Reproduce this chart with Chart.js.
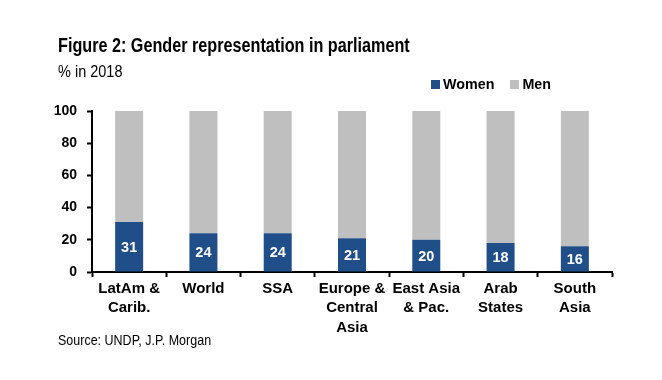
<!DOCTYPE html>
<html>
<head>
<meta charset="utf-8">
<script src="https://cdn.jsdelivr.net/npm/chart.js@4"></script>
<style>
  html, body { margin: 0; padding: 0; background: #fff; }
  #wrap { position: relative; width: 662px; height: 380px; overflow: hidden; font-family: "Liberation Sans", Arial, sans-serif; color: #000; }
  #chart { position: absolute; left: 0; top: 0; }
  .txt { position: absolute; white-space: nowrap; transform-origin: left bottom; }
  #title { left: 58px; top: 38px; font-size: 16.2px; font-weight: bold; transform: scaleY(1.2); }
  #subtitle { left: 58px; top: 64px; font-size: 14.5px; transform: scaleY(1.15); }
  #source { left: 58px; top: 334px; font-size: 12.5px; transform: scaleY(1.1); }
  #legend { position: absolute; left: 431px; top: 76px; font-size: 14.3px; font-weight: bold; display: flex; align-items: center; }
  .lg { display: flex; align-items: center; margin-right: 16px; }
  .sw { width: 9px; height: 9px; margin-right: 3px; }
</style>
</head>
<body>
<div id="wrap">
  <canvas id="chart" width="662" height="380"></canvas>
  <div class="txt" id="title">Figure 2: Gender representation in parliament</div>
  <div class="txt" id="subtitle">% in 2018</div>
  <div id="legend"></div>
  <div class="txt" id="source">Source: UNDP, J.P. Morgan</div>
</div>
<script>
const categories = [["LatAm &", "Carib."], ["World"], ["SSA"], ["Europe &", "Central", "Asia"], ["East Asia", "& Pac."], ["Arab", "States"], ["South", "Asia"]];
const women = [31, 24, 24, 21, 20, 18, 16];
const men = [69, 76, 76, 79, 80, 82, 84];
const yTicks = [0, 20, 40, 60, 80, 100];

const FONT = '"Liberation Sans", Arial, sans-serif';

const valueLabels = {
  id: 'valueLabels',
  afterDatasetsDraw(chart) {
    const ctx = chart.ctx;
    const meta = chart.getDatasetMeta(0);
    const ds = chart.data.datasets[0];
    ctx.save();
    ctx.fillStyle = '#ffffff';
    ctx.font = 'bold 14.5px ' + FONT;
    ctx.textAlign = 'center';
    ctx.textBaseline = 'middle';
    meta.data.forEach((el, i) => {
      const p = el.getProps(['x', 'y', 'base'], true);
      ctx.fillText(String(ds.data[i]), p.x, (p.y + p.base) / 2 + 1);
    });
    ctx.restore();
  }
};

const chart = new Chart(document.getElementById('chart'), {
  type: 'bar',
  data: {
    labels: categories,
    datasets: [
      { label: 'Women', data: women, backgroundColor: '#1F4E88', barPercentage: 0.377, categoryPercentage: 1.0 },
      { label: 'Men', data: men, backgroundColor: '#BFBFBF', barPercentage: 0.377, categoryPercentage: 1.0 }
    ]
  },
  options: {
    responsive: false,
    animation: false,
    devicePixelRatio: 1,
    layout: { padding: { left: 0, right: 50, top: 111, bottom: 0 } },
    plugins: {
      legend: { display: false },
      tooltip: { enabled: false },
      title: { display: false }
    },
    scales: {
      x: {
        stacked: true,
        offset: true,
        grid: { offset: true, drawOnChartArea: false, tickLength: 5, tickColor: '#000', tickWidth: 2 },
        border: { color: '#000', width: 2 },
        ticks: { color: '#000', font: { family: FONT, size: 15, weight: 'bold', lineHeight: 1.3 }, padding: 2, maxRotation: 0, autoSkip: false },
        afterFit(scale) { scale.height = 108; }
      },
      y: {
        stacked: true,
        min: 0,
        max: 100,
        afterBuildTicks(scale) { scale.ticks = yTicks.map(v => ({ value: v })); },
        grid: { drawOnChartArea: false, tickLength: 5, tickColor: '#000', tickWidth: 2 },
        border: { color: '#000', width: 2 },
        ticks: { color: '#000', font: { family: FONT, size: 14, weight: 'bold' }, padding: 10 },
        afterFit(scale) { scale.width = 92; }
      }
    }
  },
  plugins: [valueLabels]
});

const lg = document.getElementById('legend');
chart.data.datasets.forEach(ds => {
  const item = document.createElement('div');
  item.className = 'lg';
  const sw = document.createElement('div');
  sw.className = 'sw';
  sw.style.background = ds.backgroundColor;
  const t = document.createElement('span');
  t.textContent = ds.label;
  item.appendChild(sw);
  item.appendChild(t);
  lg.appendChild(item);
});
</script>
</body>
</html>
